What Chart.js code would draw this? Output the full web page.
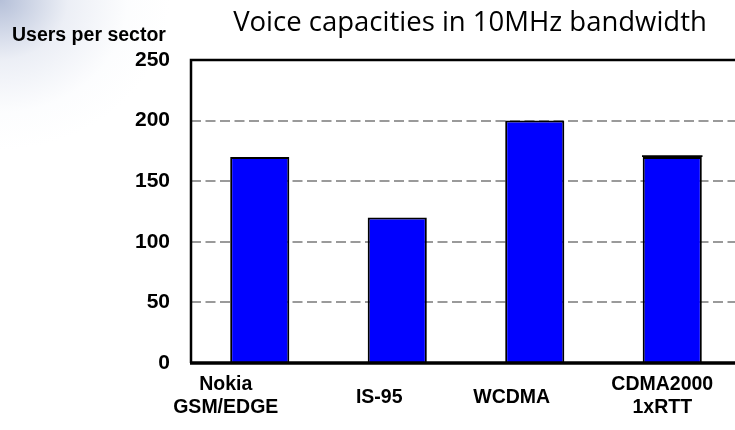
<!DOCTYPE html>
<html>
<head>
<meta charset="utf-8">
<script src="https://cdn.jsdelivr.net/npm/chart.js@4/dist/chart.umd.min.js"></script>
<style>
  html, body { margin: 0; padding: 0; overflow: hidden; background: #fff; }
  #wrap { position: relative; width: 735px; height: 430px; overflow: hidden;
    background: radial-gradient(ellipse 170px 150px at 0 0, rgba(150,165,200,0.7) 0%, rgba(200,208,228,0.35) 40%, rgba(235,240,248,0.15) 75%, rgba(255,255,255,0) 100%); }
  canvas { position: absolute; left: 0; top: 0; }
</style>
</head>
<body>
<div id="wrap"><canvas id="c" width="741" height="430"></canvas></div>
<script>
const titleText = "Voice capacities in 10MHz bandwidth";
const yAxisTitle = "Users per sector";
const categories = [["Nokia", "GSM/EDGE"], ["IS-95"], ["WCDMA"], ["CDMA2000", "1xRTT"]];
const usersPerSector = [170, 120, 200, 170];
const topCap = [0, 0, 0, 1.5];
const yTicks = [0, 50, 100, 150, 200, 250];

// style-only: horizontal nudges of category captions (px)
const captionShift = [-34, -18, -23, -10];

const FONT = "'Liberation Sans', Arial, sans-serif";

const decor = {
  id: 'decor',
  afterDraw(chart) {
    const ctx = chart.ctx;
    const a = chart.chartArea;
    const x = chart.scales.x;
    ctx.save();
    // frame
    ctx.strokeStyle = '#000';
    ctx.lineWidth = 2.5;
    ctx.beginPath();
    ctx.moveTo(a.left, a.bottom);
    ctx.lineTo(a.left, a.top);
    ctx.lineTo(a.right + 5, a.top);
    ctx.stroke();
    ctx.lineWidth = 3.5;
    ctx.beginPath();
    ctx.moveTo(a.left - 1, a.bottom);
    ctx.lineTo(a.right + 5, a.bottom);
    ctx.stroke();
    // title
    ctx.fillStyle = '#000';
    ctx.textAlign = 'center';
    ctx.textBaseline = 'middle';
    ctx.font = "27.5px 'Open Sans', " + FONT;
    ctx.fillText(titleText, 470, 23);
    // y axis title
    ctx.font = "bold 19.5px " + FONT;
    ctx.textAlign = 'left';
    ctx.fillText(yAxisTitle, 12, 36);
    // category captions
    ctx.font = "bold 19.5px " + FONT;
    ctx.textAlign = 'center';
    categories.forEach((lines, i) => {
      const cx = x.getPixelForValue(i) + captionShift[i];
      if (lines.length === 1) {
        ctx.fillText(lines[0], cx, a.bottom + 35);
      } else {
        ctx.fillText(lines[0], cx, a.bottom + 22);
        ctx.fillText(lines[1], cx, a.bottom + 45);
      }
    });
    ctx.restore();
  }
};

new Chart(document.getElementById('c'), {
  type: 'bar',
  data: {
    labels: categories.map(l => l.join(' ')),
    datasets: [
      { data: usersPerSector, backgroundColor: '#0000ff', borderColor: '#000', borderWidth: 2,
        barPercentage: 0.43, categoryPercentage: 1 },
      { data: topCap, backgroundColor: '#000', borderWidth: 0,
        barPercentage: 0.44, categoryPercentage: 1 }
    ]
  },
  options: {
    responsive: false,
    animation: false,
    devicePixelRatio: 1,
    layout: { padding: { left: 0, right: 0, top: 60, bottom: 59 } },
    plugins: { legend: { display: false }, title: { display: false }, tooltip: { enabled: false } },
    scales: {
      x: {
        stacked: true,
        grid: { display: false },
        ticks: { display: false },
        border: { display: false }
      },
      y: {
        stacked: true,
        min: yTicks[0], max: yTicks[yTicks.length - 1],
        afterFit(s) { s.width = 191; },
        afterBuildTicks(s) { s.ticks = yTicks.map(v => ({ value: v })); },
        ticks: { color: '#000', padding: 21, font: { family: FONT, size: 21, weight: 'bold' } },
        grid: {
          drawTicks: false,
          lineWidth: 2,
          color: c => (c.tick && (c.tick.value === 0 || c.tick.value === 250)) ? 'rgba(0,0,0,0)' : '#9a9a9a'
        },
        border: { display: false, dash: [10, 4.5] }
      }
    }
  },
  plugins: [decor]
});
</script>
</body>
</html>
